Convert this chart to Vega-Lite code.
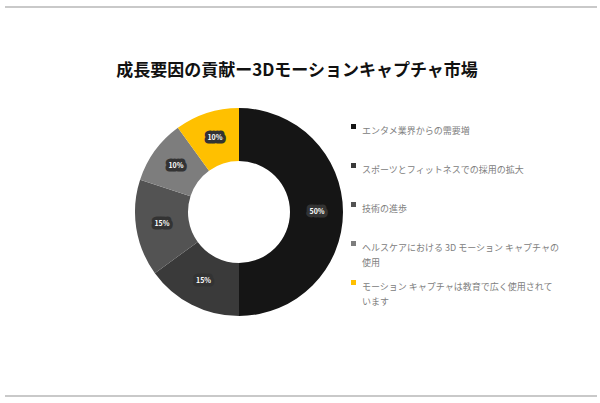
{
  "$schema": "https://vega.github.io/schema/vega-lite/v6.json",
  "description": "成長要因の貢献ー3Dモーションキャプチャ市場 (donut)",
  "width": 208,
  "height": 208,
  "autosize": "none",
  "padding": {"left": 135, "top": 108, "right": 257, "bottom": 87},
  "background": "white",
  "title": {
    "text": "成長要因の貢献ー3Dモーションキャプチャ市場",
    "font": "Noto Sans CJK JP",
    "fontSize": 17,
    "fontWeight": "bold",
    "color": "#111111",
    "anchor": "middle",
    "frame": "group",
    "dx": 58,
    "offset": -74
  },
  "datasets": {
    "share": [
      {"factor": "エンタメ業界からの需要増", "share": 0.5, "order": 1},
      {"factor": "スポーツとフィットネスでの採用の拡大", "share": 0.15, "order": 2},
      {"factor": "技術の進歩", "share": 0.15, "order": 3},
      {"factor": "ヘルスケアにおける 3D モーション キャプチャの使用", "share": 0.1, "order": 4},
      {"factor": "モーション キャプチャは教育で広く使用されています", "share": 0.1, "order": 5}
    ],
    "frame": [
      {"edge": "top"},
      {"edge": "bottom"}
    ]
  },
  "layer": [
    {
      "data": {"name": "frame"},
      "mark": {"type": "rule", "color": "#c9c9c9", "strokeWidth": 2},
      "encoding": {
        "y": {"field": "edge", "type": "nominal", "axis": null,
              "scale": {"type": "point", "domain": ["top", "bottom"], "range": [-101, 288], "padding": 0}},
        "x": {"datum": 0, "type": "quantitative", "axis": null,
              "scale": {"domain": [0, 1], "range": [-130, 462]}},
        "x2": {"datum": 1}
      }
    },
    {
      "data": {"name": "share"},
      "mark": {"type": "arc", "innerRadius": 51, "outerRadius": 104},
      "encoding": {
        "theta": {"field": "share", "type": "quantitative", "stack": true},
        "order": {"field": "order"},
        "color": {
          "field": "factor",
          "type": "nominal",
          "scale": {
            "domain": [
              "エンタメ業界からの需要増",
              "スポーツとフィットネスでの採用の拡大",
              "技術の進歩",
              "ヘルスケアにおける 3D モーション キャプチャの使用",
              "モーション キャプチャは教育で広く使用されています"
            ],
            "range": ["#151515", "#3a3a3a", "#535353", "#7d7d7d", "#ffc000"]
          },
          "legend": {
            "title": null,
            "orient": "none",
            "legendX": 214,
            "legendY": 14,
            "symbolType": "square",
            "symbolSize": 25,
            "symbolStrokeWidth": 0,
            "labelFont": "Noto Sans CJK JP",
            "labelFontSize": 9,
            "labelColor": "#808080",
            "labelLimit": 300,
            "labelOffset": 4,
            "labelBaseline": "top",
            "gridAlign": "all",
            "rowPadding": 10,
            "encode": {
              "labels": {"update": {"lineHeight": {"value": 15}}}
            },
            "labelExpr": "datum.label == 'ヘルスケアにおける 3D モーション キャプチャの使用' ? ['ヘルスケアにおける 3D モーション キャプチャの', '使用'] : datum.label == 'モーション キャプチャは教育で広く使用されています' ? ['モーション キャプチャは教育で広く使用されて', 'います'] : datum.label"
          }
        }
      }
    },
    {
      "data": {"name": "share"},
      "mark": {"type": "text", "radius": 78, "font": "Noto Sans CJK JP", "fontSize": 7, "fontWeight": "bold",
               "color": "#333333", "stroke": "#333333", "strokeWidth": 7, "strokeJoin": "round"},
      "encoding": {
        "theta": {"field": "share", "type": "quantitative", "stack": true},
        "order": {"field": "order"},
        "text": {"field": "share", "type": "quantitative", "format": ".0%"}
      }
    },
    {
      "data": {"name": "share"},
      "mark": {"type": "text", "radius": 78, "font": "Noto Sans CJK JP", "fontSize": 7, "fontWeight": "bold", "color": "white"},
      "encoding": {
        "theta": {"field": "share", "type": "quantitative", "stack": true},
        "order": {"field": "order"},
        "text": {"field": "share", "type": "quantitative", "format": ".0%"}
      }
    }
  ],
  "config": {
    "view": {"stroke": null}
  }
}
